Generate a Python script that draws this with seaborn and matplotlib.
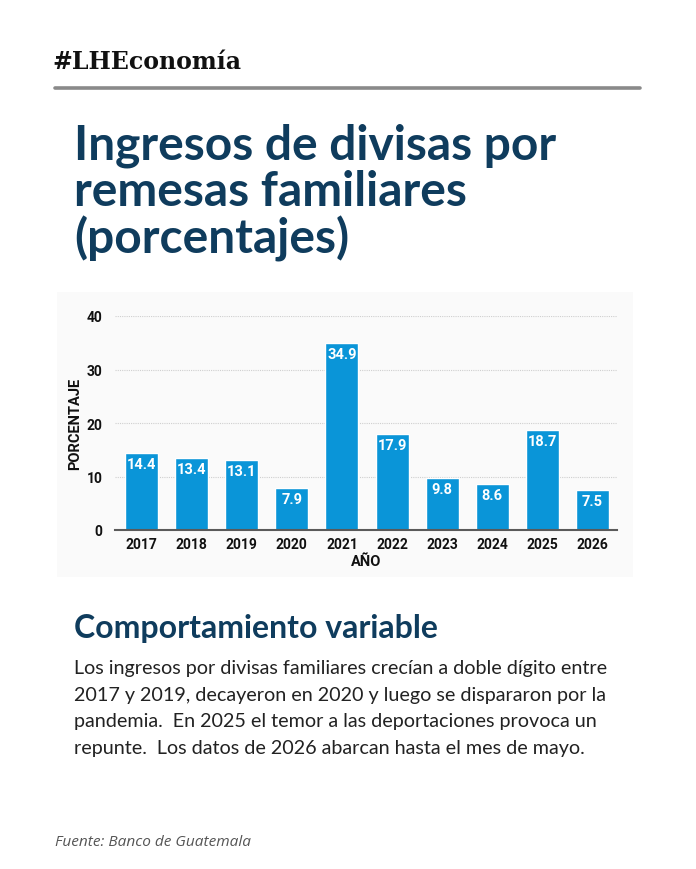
import matplotlib
matplotlib.use('Agg')
import matplotlib.pyplot as plt
import seaborn as sns
from matplotlib.patches import Rectangle
from matplotlib.lines import Line2D

# Data
years = ['2017', '2018', '2019', '2020', '2021', '2022', '2023', '2024', '2025', '2026']
values = [14.4, 13.4, 13.1, 7.9, 34.9, 17.9, 9.8, 8.6, 18.7, 7.5]
y_ticks = [0, 10, 20, 30, 40]

header = '#LHEconomía'
title_lines = ['Ingresos de divisas por', 'remesas familiares', '(porcentajes)']
subtitle = 'Comportamiento variable'
body_lines = [
    'Los ingresos por divisas familiares crecían a doble dígito entre',
    '2017 y 2019, decayeron en 2020 y luego se dispararon por la',
    'pandemia.  En 2025 el temor a las deportaciones provoca un',
    'repunte.  Los datos de 2026 abarcan hasta el mes de mayo.',
]
source = 'Fuente: Banco de Guatemala'

navy = '#0f3c5d'
blue = '#0a95d8'
narrow = ['Roboto', 'DejaVu Sans']

sns.set_theme(style='white')
plt.rcParams['font.family'] = ['Lato', 'DejaVu Sans']

W, H = 696, 870
fig = plt.figure(figsize=(W / 100, H / 100), dpi=100)
fig.patch.set_facecolor('white')

# pixel helpers (origin top-left)
def fx(px):
    return px / W

def fy(py):
    return 1 - py / H

# header + rule
fig.text(fx(52), fy(69), header, family='DejaVu Serif', weight='bold',
         fontsize=17, color='#111111', va='baseline')
fig.add_artist(Line2D([fx(55), fx(640)], [fy(89), fy(89)], color='#8a8a8a', lw=2.6))

# title
for i, line in enumerate(title_lines):
    fig.text(fx(74), fy(159 + i * 47), line, fontsize=34.5, weight='bold',
             color=navy, va='baseline')

# faint chart panel
fig.add_artist(Rectangle((fx(57), fy(578)), fx(633) - fx(57), fy(293) - fy(578),
                         facecolor='#fafafa', edgecolor='none', zorder=0))

# chart
ax = fig.add_axes([fx(115), fy(531), fx(617) - fx(115), fy(317) - fy(531)])
ax.set_facecolor('none')
sns.barplot(x=years, y=values, color=blue, saturation=1, width=0.66, ax=ax, zorder=3)
ax.set_xlim(-0.53, 9.49)
ax.set_ylim(0, 40)
ax.set_yticks(y_ticks)
ax.yaxis.grid(True, color='#cfcfcf', linestyle=(0, (1, 1)), linewidth=0.8)
ax.set_axisbelow(True)
for s in ['top', 'right', 'left']:
    ax.spines[s].set_visible(False)
ax.spines['bottom'].set_color('#5a5a5a')
ax.spines['bottom'].set_linewidth(1.5)
ax.spines['bottom'].set_zorder(4)
ax.tick_params(axis='both', length=0)
ax.tick_params(axis='x', pad=5)
ax.tick_params(axis='y', pad=9)
for lab in ax.get_xticklabels() + ax.get_yticklabels():
    lab.set_family(narrow)
    lab.set_weight('bold')
    lab.set_fontsize(10)
    lab.set_color('#111111')

for i, v in enumerate(values):
    ax.annotate(f'{v}', (i, v), xytext=(0, -8), textcoords='offset points',
                ha='center', va='center', color='white', fontsize=10.5,
                family=narrow, weight='bold')

ax.set_ylabel('PORCENTAJE', family=narrow, weight='bold', fontsize=10.5, color='#111111')
ax.yaxis.set_label_coords(-0.066, 0.5)
ax.set_xlabel('AÑO', family=narrow, weight='bold', fontsize=10.5, color='#111111')
ax.xaxis.set_label_coords(0.5, -0.11)

# subtitle and body
fig.text(fx(74), fy(638), subtitle, fontsize=23, weight='bold', color=navy, va='baseline')
for i, line in enumerate(body_lines):
    fig.text(fx(74), fy(674 + i * 26.6), line, fontsize=14.2, color='#222222', va='baseline')

fig.text(fx(55), fy(846), source, family='Open Sans', style='italic', fontsize=11.1,
         color='#555555', va='baseline')

fig.savefig('out.png', dpi=100, facecolor='white')
